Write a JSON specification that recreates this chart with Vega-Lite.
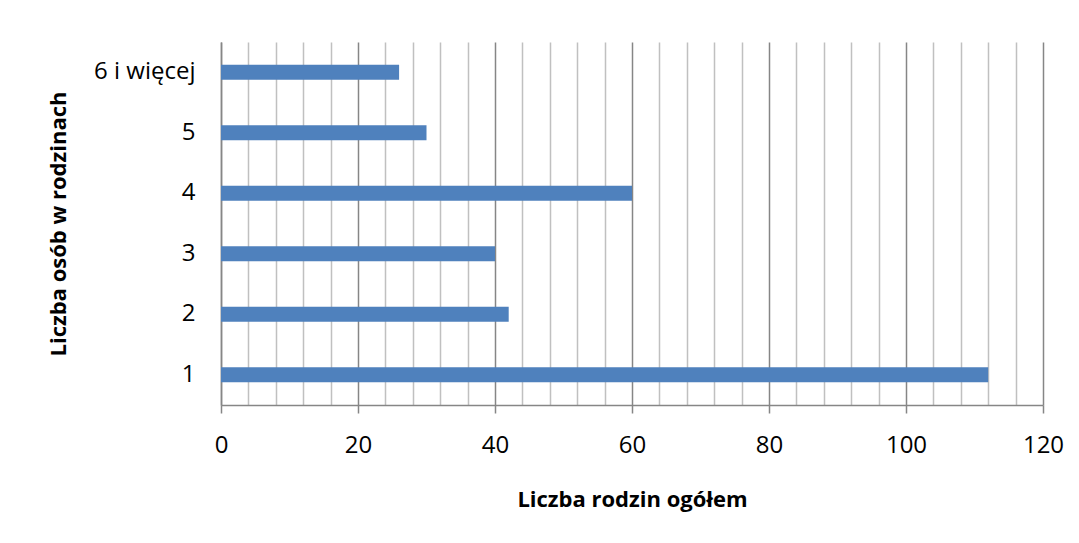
{
  "$schema": "https://vega.github.io/schema/vega-lite/v6.json",
  "width": 822,
  "height": 363,
  "autosize": {"type": "none"},
  "padding": {"left": 221, "top": 42, "right": 36, "bottom": 138},
  "background": "white",
  "config": {
    "font": "Open Sans",
    "view": {"stroke": null}
  },
  "data": {
    "values": [
      {"osoby": "6 i więcej", "rodziny": 26},
      {"osoby": "5", "rodziny": 30},
      {"osoby": "4", "rodziny": 60},
      {"osoby": "3", "rodziny": 40},
      {"osoby": "2", "rodziny": 42},
      {"osoby": "1", "rodziny": 112}
    ]
  },
  "mark": {"type": "bar", "color": "#4f81bd", "size": 15},
  "encoding": {
    "y": {
      "field": "osoby",
      "type": "nominal",
      "sort": ["6 i więcej", "5", "4", "3", "2", "1"],
      "scale": {"paddingInner": 0, "paddingOuter": 0},
      "axis": {
        "title": "Liczba osób w rodzinach",
        "titleFont": "Open Sans",
        "titleFontSize": 22,
        "titleFontWeight": "bold",
        "titleColor": "#000000",
        "titlePadding": 23,
        "labelFont": "Open Sans",
        "labelFontSize": 24,
        "labelColor": "#000000",
        "labelPadding": 26,
        "ticks": false,
        "domainColor": "#868686",
        "domainWidth": 1.5,
        "grid": false
      }
    },
    "x": {
      "field": "rodziny",
      "type": "quantitative",
      "scale": {"domain": [0, 120], "nice": false},
      "axis": {
        "title": "Liczba rodzin ogółem",
        "titleFont": "Open Sans",
        "titleFontSize": 22,
        "titleFontWeight": "bold",
        "titleColor": "#000000",
        "titlePadding": 32,
        "values": [0, 4, 8, 12, 16, 20, 24, 28, 32, 36, 40, 44, 48, 52, 56, 60, 64, 68, 72, 76, 80, 84, 88, 92, 96, 100, 104, 108, 112, 116, 120],
        "labelExpr": "datum.value % 20 === 0 ? datum.label : ''",
        "labelFont": "Open Sans",
        "labelFontSize": 24,
        "labelColor": "#000000",
        "labelPadding": 20,
        "labelFlush": false,
        "labelOverlap": false,
        "tickSize": 8,
        "tickColor": "#868686",
        "tickWidth": 1.5,
        "tickOpacity": {"condition": {"test": "datum.value % 20 === 0", "value": 1}, "value": 0},
        "domainColor": "#868686",
        "domainWidth": 1.5,
        "grid": true,
        "gridColor": {"condition": {"test": "datum.value % 20 === 0", "value": "#868686"}, "value": "#c0c0c0"},
        "gridWidth": 1.5
      }
    }
  }
}
